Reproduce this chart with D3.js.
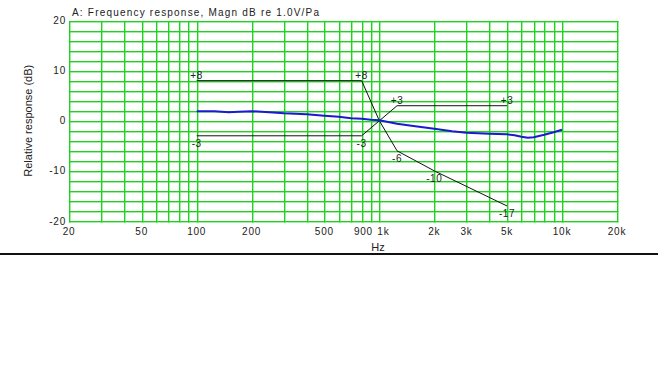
<!DOCTYPE html>
<html>
<head>
<meta charset="utf-8">
<script src="https://cdn.jsdelivr.net/npm/d3@7/dist/d3.min.js"></script>
<style>
    body { margin: 0; background: #fff; }
    svg { display: block; }
    .grid-line { fill: #1ed21e; }
    .tick-label { font-family: "Liberation Sans", Arial, sans-serif; font-size: 10px; letter-spacing: 0.8px; fill: #222; }
    .title { font-family: "Liberation Sans", Arial, sans-serif; font-size: 10px; letter-spacing: 1.2px; fill: #222; }
    .axis-title { font-family: "Liberation Sans", Arial, sans-serif; font-size: 11px; fill: #222; }
    .limit-line { fill: none; stroke: #111; stroke-width: 1; }
    .limit-label { font-family: "Liberation Sans", Arial, sans-serif; font-size: 10px; letter-spacing: 0.6px; fill: #222; }
    .response { fill: none; stroke: #1a1ad0; stroke-width: 2; }
</style>
</head>
<body>
<svg id="chart" width="658" height="384"></svg>
<script>
/**
 * Frequency response plot
**/

var tickFreqs = [20, 50, 100, 200, 500, 900, 1000, 2000, 3000, 5000, 10000, 20000];
var tickLabels = ['20', '50', '100', '200', '500', '900', '1k', '2k', '3k', '5k', '10k', '20k'];
var gridFreqs = [20, 30, 40, 50, 60, 70, 80, 90,
                 100, 200, 300, 400, 500, 600, 700, 800, 900,
                 1000, 2000, 3000, 4000, 5000, 6000, 7000, 8000, 9000,
                 10000, 20000];
var dbTicks = [-20, -10, 0, 10, 20];
var dbGrid = [-20, -18, -16, -14, -12, -10, -8, -6, -4, -2, 0, 2, 4, 6, 8, 10, 12, 14, 16, 18, 20];

// measured response (blue)
var respFreq = [100, 125, 150, 170, 200, 250, 300, 400, 500, 600, 700, 800, 900, 1000,
                1250, 1500, 2000, 2500, 3000, 4000, 5000, 5500, 6000, 6500, 7000, 8000, 9000, 10000];
var respDb = [1.9, 1.9, 1.7, 1.8, 1.9, 1.7, 1.5, 1.3, 1.0, 0.8, 0.5, 0.4, 0.2, 0.1,
              -0.6, -1.0, -1.6, -2.1, -2.4, -2.6, -2.7, -2.9, -3.2, -3.4, -3.3, -2.8, -2.3, -1.8];

// tolerance template (black)
var upperFreq = [100, 800, 1000, 1250, 2000, 5000];
var upperDb = [8, 8, 0, -6, -10, -17];
var lowerFreq = [100, 800, 1000, 1250, 5000];
var lowerDb = [-3, -3, 0, 3, 3];

var markFreq = [100, 800, 100, 800, 1250, 2000, 5000, 1250, 5000];
var markDb = [8, 8, -3, -3, -6, -10, -17, 3, 3];
var markText = ['+8', '+8', '-3', '-3', '-6', '-10', '-17', '+3', '+3'];

var svg = d3.select('#chart');
var margin = {left: 69, right: 617, top: 20.5, bottom: 221};

var x = d3.scaleLog().domain([20, 20000]).range([margin.left, margin.right]);
var y = d3.scaleLinear().domain([-20, 20]).range([margin.bottom, margin.top]);

function zip(a, b) {
    return a.map(function(v, i) { return [v, b[i]]; });
}

var line = d3.line()
    .x(function(d) { return x(d[0]); })
    .y(function(d) { return y(d[1]); });

// grid, drawn as rects so every line stays solid
var grid = svg.append('g').attr('class', 'grid');
grid.selectAll('.grid-h')
    .data(dbGrid)
  .enter().append('rect')
    .attr('class', 'grid-line grid-h')
    .attr('x', Math.round(x(20)))
    .attr('width', Math.round(x(20000)) - Math.round(x(20)) + 1.4)
    .attr('y', function(d) { return Math.round(y(d)); })
    .attr('height', 1.4);
grid.selectAll('.grid-v')
    .data(gridFreqs)
  .enter().append('rect')
    .attr('class', 'grid-line grid-v')
    .attr('y', Math.round(y(20)))
    .attr('height', Math.round(y(-20)) - Math.round(y(20)) + 1.4)
    .attr('x', function(d) { return Math.round(x(d)); })
    .attr('width', 1.4);

// x tick labels
svg.selectAll('.x-label')
    .data(tickFreqs)
  .enter().append('text')
    .attr('class', 'tick-label x-label')
    .attr('x', function(d, i) {
        if (tickLabels[i] === '900') { return x(d) + 2; }
        if (tickLabels[i] === '1k') { return x(d) - 2; }
        return x(d);
    })
    .attr('y', 235)
    .attr('text-anchor', function(d, i) {
        if (tickLabels[i] === '900') { return 'end'; }
        if (tickLabels[i] === '1k') { return 'start'; }
        return 'middle';
    })
    .text(function(d, i) { return tickLabels[i]; });

// y tick labels
svg.selectAll('.y-label')
    .data(dbTicks)
  .enter().append('text')
    .attr('class', 'tick-label y-label')
    .attr('x', 66)
    .attr('y', function(d) { return y(d); })
    .attr('dy', '0.35em')
    .attr('text-anchor', 'end')
    .text(function(d) { return d; });

svg.append('text')
    .attr('class', 'title')
    .attr('x', 72)
    .attr('y', 16)
    .text('A: Frequency response, Magn dB re 1.0V/Pa');

svg.append('text')
    .attr('class', 'axis-title')
    .attr('x', 378)
    .attr('y', 251)
    .attr('text-anchor', 'middle')
    .text('Hz');

svg.append('text')
    .attr('class', 'axis-title')
    .attr('transform', 'translate(32,' + y(0) + ')rotate(-90)')
    .attr('text-anchor', 'middle')
    .text('Relative response (dB)');

// tolerance template
svg.append('path')
    .attr('class', 'limit-line')
    .attr('d', line(zip(upperFreq, upperDb)));
svg.append('path')
    .attr('class', 'limit-line')
    .attr('d', line(zip(lowerFreq, lowerDb)));

svg.selectAll('.limit-label')
    .data(markFreq)
  .enter().append('text')
    .attr('class', 'limit-label')
    .attr('x', function(d) { return x(d); })
    .attr('y', function(d, i) { return markDb[i] > 0 ? y(markDb[i]) - 2 : y(markDb[i]) + 11; })
    .attr('text-anchor', 'middle')
    .text(function(d, i) { return markText[i]; });

// response curve
svg.append('path')
    .attr('class', 'response')
    .attr('d', line(zip(respFreq, respDb)));

// separator rule under the plot
svg.append('rect')
    .attr('x', 0)
    .attr('y', 253)
    .attr('width', 658)
    .attr('height', 2)
    .attr('fill', '#111');
</script>
</body>
</html>
